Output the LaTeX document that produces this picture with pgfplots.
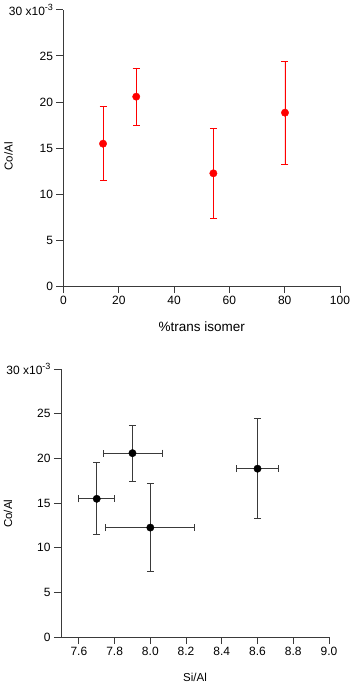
\documentclass[border=0pt]{standalone}
\usepackage{fontspec}
\setmainfont{Liberation Sans}
\usepackage{pgfplots}
\pgfplotsset{compat=1.18}

\definecolor{axgray}{HTML}{3A3A3A}
\newcommand{\fs}{\fontsize{12}{14}\selectfont}
\newcommand{\fl}{\fontsize{11.5}{13}\selectfont}

\pgfplotsset{
  igor/.style={
    scale only axis,
    axis x line*=bottom,
    axis y line*=left,
    axis line style={axgray, line width=0.9pt},
    xmajorticks=true, ymajorticks=true,
    tick align=outside,
    major tick length=7pt,
    major tick style={draw=axgray, line width=1pt},
    tick label style={font=\fs, text=black},
    label style={font=\fl},
    /pgf/number format/assume math mode=true,
    ymin=0, ymax=30,
    ytick={0,5,10,15,20,25,30},
    yticklabels={0,5,10,15,20,25,{30\ x10\raisebox{0.75ex}{\fontsize{9}{9}\selectfont -3}}},
    ylabel={Co/Al},
    y label style={at={(axis description cs:0,0.47)}, anchor=center, yshift=55pt},
    x label style={at={(axis description cs:0.5,0)}, anchor=center, yshift=-41pt},
  },
}

\begin{document}
\begin{tikzpicture}
\useasboundingbox (-63.5pt,-397pt) rectangle (289.5pt,286pt);

% top: Co/Al vs % trans isomer
\begin{axis}[igor,
    width=276.5pt, height=276pt,
    xmin=0, xmax=100,
    xtick={0,20,40,60,80,100},
    xlabel={\%trans isomer},
    x label style={font=\fontsize{13.5}{15}\selectfont},
]
\addplot[only marks, draw=red, fill=red, mark=*, mark size=3.7pt,
    error bars/.cd, y dir=both, y explicit,
    error bar style={draw=red, line width=0.9pt},
    error mark options={rotate=90, draw=red, mark size=3.5pt, line width=0.9pt}]
coordinates {
  (14.3,15.47) += (0,4.02) -= (0,4.02)
  (26.3,20.58) += (0,3.12) -= (0,3.12)
  (54.2,12.25) += (0,4.89) -= (0,4.86)
  (80.1,18.84) += (0,5.58) -= (0,5.58)
};
\end{axis}

% bottom: Co/Al vs Si/Al
\begin{axis}[igor,
    at={(-2.5pt,-351pt)},
    width=268pt, height=268pt,
    xmin=7.5, xmax=9.0,
    xtick={7.6,7.8,8.0,8.2,8.4,8.6,8.8,9.0},
    xticklabel style={/pgf/number format/.cd, fixed, fixed zerofill, precision=1},
    xlabel={Si/Al},
    y label style={at={(axis description cs:0,0.46)}, yshift=-2pt},
    x label style={yshift=1pt},
]
\addplot[only marks, draw=black, fill=black, mark=*, mark size=3.7pt,
    error bars/.cd, x dir=both, x explicit, y dir=both, y explicit,
    error bar style={draw=axgray, line width=0.9pt},
    error mark options={rotate=90, draw=axgray, mark size=3.5pt, line width=0.9pt}]
coordinates {
  (7.70,15.47) += (0.100,4.02) -= (0.100,4.02)
  (7.90,20.58) += (0.166,3.12) -= (0.164,3.12)
  (8.00,12.25) += (0.245,4.89) -= (0.250,4.86)
  (8.60,18.84) += (0.116,5.58) -= (0.116,5.58)
};
\end{axis}
\end{tikzpicture}
\end{document}
